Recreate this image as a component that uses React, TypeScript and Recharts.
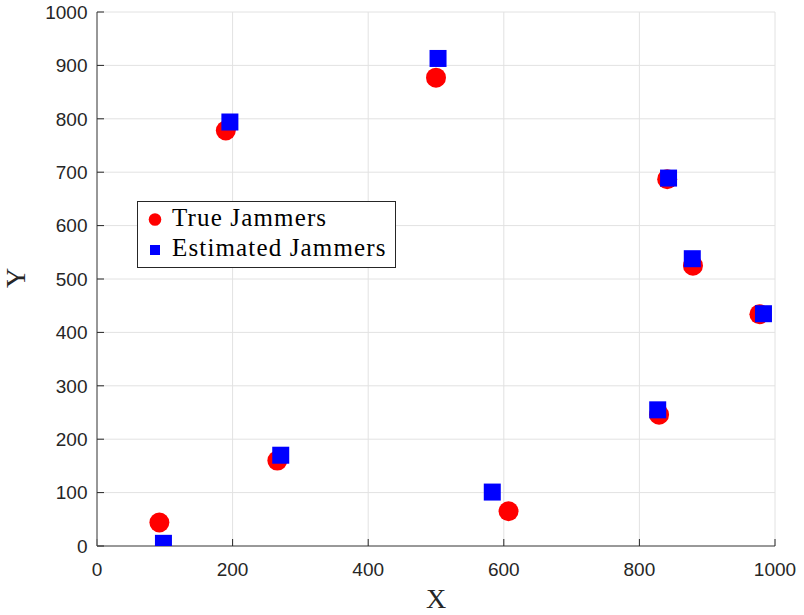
import React from "react";
import {
  CartesianGrid,
  Legend,
  Scatter,
  ScatterChart,
  XAxis,
  YAxis,
} from "recharts";

// positions
const trueX = [92, 190, 266, 500, 607, 841, 879, 829, 977];
const trueY = [44, 778, 160, 877, 65, 687, 525, 246, 434];
const estX = [98, 196, 271, 503, 583, 843, 878, 827, 983];
const estY = [5, 794, 170, 913, 101, 689, 538, 255, 435];

const xTicks = [0, 200, 400, 600, 800, 1000];
const yTicks = [0, 100, 200, 300, 400, 500, 600, 700, 800, 900, 1000];

const seriesNames = ["True Jammers", "Estimated Jammers"];

const trueData = trueX.map((x, i) => ({ x, y: trueY[i] }));
const estData = estX.map((x, i) => ({ x, y: estY[i] }));

const tickFont = {
  fill: "#262626",
  fontSize: 19,
  fontFamily: "'Liberation Sans', Arial, sans-serif",
};
const serif = "'Liberation Serif', 'Times New Roman', serif";

const Dot = (props: any) => (
  <circle cx={props.cx} cy={props.cy} r={10} fill="#ff0000" />
);

const Square = (props: any) => (
  <rect
    x={props.cx - 8.5}
    y={props.cy - 8.5}
    width={17}
    height={17}
    fill="#0000ff"
  />
);

// legend drawn as a framed box, same order as the series
function BoxLegend() {
  return (
    <svg width={260} height={68} style={{ display: "block" }}>
      <rect x={0.5} y={0.5} width={258} height={66} fill="#fff" stroke="#262626" />
      {seriesNames.map((name, i) => {
        const cy = i === 0 ? 18.5 : 49;
        const base = i === 0 ? 25 : 55;
        return (
          <g key={name}>
            {i === 0 ? (
              <circle cx={18} cy={cy} r={6.3} fill="#ff0000" />
            ) : (
              <rect x={13} y={cy - 5} width={10} height={10} fill="#0000ff" />
            )}
            <text
              x={35}
              y={base}
              fontFamily={serif}
              fontSize={25}
              letterSpacing={1.15}
              fill="#000"
            >
              {name}
            </text>
          </g>
        );
      })}
    </svg>
  );
}

const YLabel = () => (
  <text
    transform="translate(25,278) rotate(-90)"
    textAnchor="middle"
    fontFamily={serif}
    fontSize={28}
    fill="#262626"
  >
    Y
  </text>
);

export default function App() {
  return (
    <div style={{ position: "absolute", left: 0, top: 0, background: "#fff" }}>
      <ScatterChart
        width={804}
        height={615}
        margin={{ top: 12, right: 29, bottom: 0, left: 0 }}
      >
        <CartesianGrid stroke="#e2e2e2" strokeWidth={1} />
        <XAxis
          type="number"
          dataKey="x"
          domain={[0, 1000]}
          ticks={xTicks}
          height={69}
          tick={tickFont}
          tickSize={-7}
          tickMargin={23.5}
          tickLine={{ stroke: "#262626" }}
          axisLine={{ stroke: "#404040" }}
          allowDataOverflow
          label={{
            value: "X",
            position: "insideBottom",
            offset: 7,
            fill: "#262626",
            fontSize: 28,
            fontFamily: serif,
          }}
        />
        <XAxis
          xAxisId="top"
          orientation="top"
          type="number"
          domain={[0, 1000]}
          ticks={xTicks}
          height={0}
          tick={false}
          tickSize={-7}
          tickLine={{ stroke: "#262626" }}
          axisLine={{ stroke: "#404040" }}
          allowDataOverflow
        />
        <YAxis
          type="number"
          dataKey="y"
          domain={[0, 1000]}
          ticks={yTicks}
          width={97}
          tick={tickFont}
          tickSize={-7}
          tickMargin={16.5}
          tickLine={{ stroke: "#262626" }}
          axisLine={{ stroke: "#7a7a7a", strokeWidth: 1.5 }}
          allowDataOverflow
          label={<YLabel />}
        />
        <YAxis
          yAxisId="right"
          orientation="right"
          type="number"
          domain={[0, 1000]}
          ticks={yTicks}
          width={0}
          tick={false}
          tickSize={-7}
          tickLine={{ stroke: "#262626" }}
          axisLine={{ stroke: "#7a7a7a", strokeWidth: 1.5 }}
          allowDataOverflow
        />
        <Legend
          layout="vertical"
          align="center"
          verticalAlign="middle"
          wrapperStyle={{ left: 137, top: 201, width: 260, height: 68 }}
          content={<BoxLegend />}
        />
        <Scatter
          name={seriesNames[0]}
          data={trueData}
          shape={<Dot />}
          isAnimationActive={false}
        />
        <Scatter
          name={seriesNames[1]}
          data={estData}
          shape={<Square />}
          isAnimationActive={false}
        />
      </ScatterChart>
    </div>
  );
}
